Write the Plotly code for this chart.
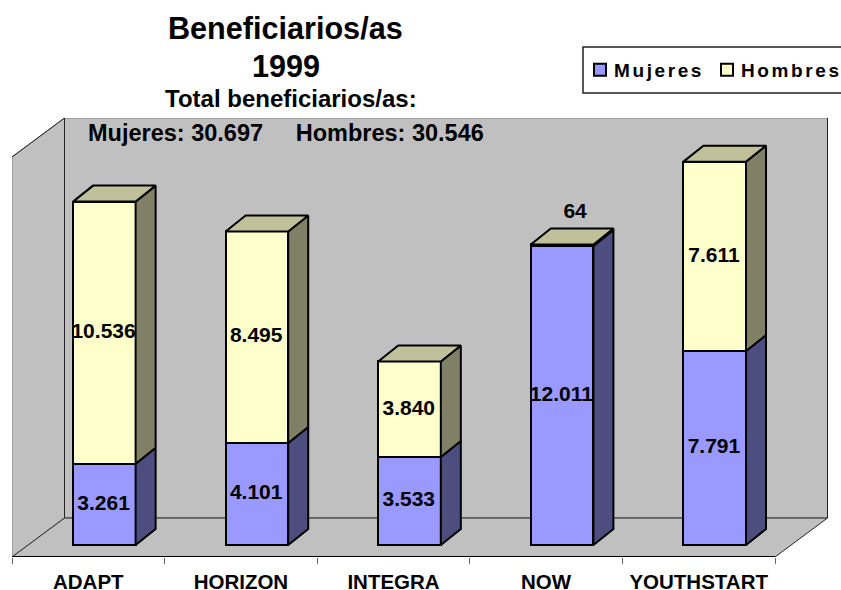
import plotly.graph_objects as go

categories = ["ADAPT", "HORIZON", "INTEGRA", "NOW", "YOUTHSTART"]
mujeres = [3261, 4101, 3533, 12011, 7791]
hombres = [10536, 8495, 3840, 64, 7611]
total_mujeres = "30.697"
total_hombres = "30.546"

FONT = "Liberation Sans"
W, H = 841, 590
L, R, T, B = 12, 828, 118, 557
UNIT_PX = 152.6     # px per category
VAL_PX = 343.4 / 13797  # px per value unit
BASE_PX = 545       # pixel row of value 0

x_lo = -0.5
x_hi = x_lo + (R - L) / UNIT_PX
y_lo = -(B - BASE_PX) / VAL_PX
y_hi = (BASE_PX - T) / VAL_PX

BAR_OFFSET, BAR_W = -0.10, 0.41
DX, DY = 20 / UNIT_PX, 16 / VAL_PX
WALL_DX, WALL_DY = 52.5 / UNIT_PX, 39 / VAL_PX


def fmt(v):
    return f"{v:,}".replace(",", ".")


def px(x):
    return (x - L) / (R - L)


def py(y):
    return (B - y) / (B - T)


def side_poly(i, v0, v1):
    xa = i + BAR_OFFSET + BAR_W
    return ([xa, xa + DX, xa + DX, xa, xa, None],
            [v0, v0 + DY, v1 + DY, v1, v0, None])


def top_poly(i, v):
    xa = i + BAR_OFFSET
    xb = xa + BAR_W
    return ([xa, xb, xb + DX, xa + DX, xa, None],
            [v, v, v + DY, v + DY, v, None])


def collect(polys):
    xs, ys = [], []
    for a, b in polys:
        xs += a
        ys += b
    return xs, ys


idx = list(range(len(categories)))
fig = go.Figure()

line = dict(color="black", width=2)
fig.add_bar(x=idx, y=mujeres, name="Mujeres", offset=BAR_OFFSET, width=BAR_W,
            marker=dict(color="#9999FF", line=line))
fig.add_bar(x=idx, y=hombres, name="Hombres", offset=BAR_OFFSET, width=BAR_W,
            marker=dict(color="#FFFFCC", line=line))

for polys, color in [
    ([side_poly(i, 0, mujeres[i]) for i in idx], "#4D4D80"),
    ([side_poly(i, mujeres[i], mujeres[i] + hombres[i]) for i in idx], "#808066"),
    ([top_poly(i, mujeres[i] + hombres[i]) for i in idx], "#C0C09A"),
]:
    xs, ys = collect(polys)
    fig.add_scatter(x=xs, y=ys, mode="lines", fill="toself", fillcolor=color,
                    line=line, showlegend=False, hoverinfo="skip")

lab_x, lab_y, lab_t = [], [], []
for i in idx:
    m, h = mujeres[i], hombres[i]
    cx = i + BAR_OFFSET + BAR_W / 2 - 0.005
    lab_x.append(cx); lab_y.append(m / 2); lab_t.append(fmt(m))
    lab_x.append(cx + (0.09 if h < 1000 else 0))
    lab_y.append(m + h / 2 if h >= 1000 else m + h + 1290)
    lab_t.append(fmt(h))
fig.add_scatter(x=lab_x, y=lab_y, text=lab_t, mode="text", textposition="middle center",
                textfont=dict(family=FONT, size=21, color="black", weight="bold"),
                showlegend=False, hoverinfo="skip", cliponaxis=False)

x0, x1 = x_lo, x_lo + 5
wall = "#C0C0C0"
gray_edge = "#808080"
xb0, xb1, yb = x0 + WALL_DX, x1 + WALL_DX, y_lo + WALL_DY
edge_top = y_hi - WALL_DY
shapes = [
    # back wall
    dict(type="path", layer="below", xref="x", yref="y", fillcolor=wall,
         path=f"M{xb0},{yb} L{xb1},{yb} L{xb1},{y_hi} L{xb0},{y_hi} Z",
         line=dict(color=gray_edge, width=1)),
    # side wall
    dict(type="path", layer="below", xref="x", yref="y", fillcolor=wall,
         path=f"M{x0},{y_lo} L{xb0},{yb} L{xb0},{y_hi} L{x0},{edge_top} Z",
         line=dict(color=gray_edge, width=1)),
    # floor
    dict(type="path", layer="below", xref="x", yref="y", fillcolor=wall,
         path=f"M{x0},{y_lo} L{x1},{y_lo} L{xb1},{yb} L{xb0},{yb} Z",
         line=dict(color="#222", width=1)),
    # dark wall edges
    dict(type="path", layer="below", xref="x", yref="y",
         path=f"M{x0},{edge_top} L{xb0},{y_hi} L{xb0},{yb} M{xb1},{y_hi} L{xb1},{yb}",
         line=dict(color="#222", width=1)),
    dict(type="line", layer="below", xref="x", yref="y", x0=x0, x1=x1, y0=y_lo, y1=y_lo,
         line=dict(color="black", width=2)),
    # legend frame
    dict(type="rect", xref="paper", yref="paper", x0=px(583), x1=px(850), y0=py(93), y1=py(47),
         line=dict(color="#222", width=1.5), fillcolor="white", layer="above"),
]

texts = [
    ("Beneficiarios/as", 285.5, 28, 30.6),
    ("1999", 286, 66, 30.6),
    ("Total beneficiarios/as:", 290.5, 99, 24),
    (f"Mujeres: {total_mujeres}     Hombres: {total_hombres}", 285.5, 133, 23.5),
]
annotations = [
    dict(text=t, x=px(x), y=py(y), xref="paper", yref="paper", xanchor="center",
         yanchor="middle", showarrow=False,
         font=dict(family=FONT, size=s, color="black", weight="bold"))
    for t, x, y, s in texts
]

fig.update_layout(
    width=W, height=H, autosize=False, barmode="stack",
    margin=dict(l=L, r=W - R, t=T, b=H - B, pad=0),
    paper_bgcolor="white", plot_bgcolor="white",
    showlegend=True,
    legend=dict(orientation="h", xref="paper", yref="paper", traceorder="normal",
                x=px(555), y=py(51), xanchor="left", yanchor="top",
                bgcolor="rgba(0,0,0,0)", borderwidth=0,
                entrywidth=82, entrywidthmode="pixels",
                font=dict(family=FONT, size=19, color="black", weight="bold")),
    xaxis=dict(range=[x_lo, x_hi], tickmode="array", tickvals=idx, ticktext=categories,
               ticks="outside", ticklen=6, tickwidth=0, tickcolor="rgba(0,0,0,0)",
               showline=False, showgrid=False, zeroline=False, automargin=False,
               tickfont=dict(family=FONT, size=20.5, color="black", weight="bold"),
               minor=dict(tickmode="array", tickvals=[x0 + k for k in range(6)],
                          ticks="outside", ticklen=6, tickwidth=1, tickcolor="#666", showgrid=False)),
    yaxis=dict(range=[y_lo, y_hi], visible=False, automargin=False),
    shapes=shapes, annotations=annotations,
)

post = """
document.body.style.margin = '0';
document.querySelectorAll('.legendtext').forEach(function (e) {
  e.setAttribute('letter-spacing', '2.6px');
  e.setAttribute('x', '34');
});
document.querySelectorAll('.scrollbox').forEach(function (e) {
  e.removeAttribute('clip-path');
  e.style.clipPath = 'none';
});
document.querySelectorAll('g.legend').forEach(function (e) {
  var m = /translate\\(([-\\d.]+),\\s*([-\\d.]+)\\)/.exec(e.getAttribute('transform'));
  if (m) { e.setAttribute('transform', 'translate(' + (parseFloat(m[1]) + 25) + ',' + m[2] + ')'); }
  e.removeAttribute('clip-path');
});
"""
fig.write_html("out.html", post_script=post, config={"displayModeBar": False})
